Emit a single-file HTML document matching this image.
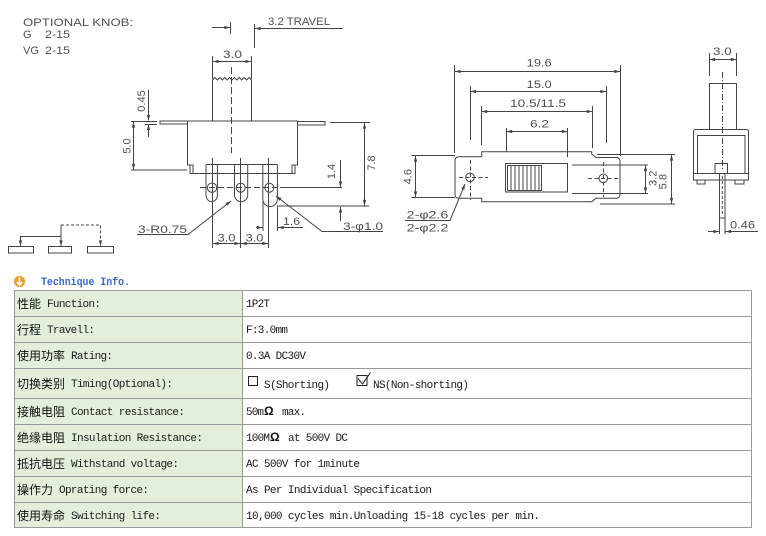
<!DOCTYPE html>
<html><head><meta charset="utf-8"><style>
html,body{margin:0;padding:0;background:#fff;width:766px;height:536px;overflow:hidden}
svg{position:absolute;left:0;top:0}
.d{font-family:"Liberation Sans",sans-serif;font-size:11px;fill:#505050}
.e{font-family:"Liberation Mono",monospace;font-size:11px;fill:#1a1a1a}
.c{font-family:"Liberation Sans","Noto Sans CJK SC",sans-serif;font-size:12px;fill:#111}
</style></head><body>
<svg width="766" height="536" viewBox="0 0 766 536" xmlns="http://www.w3.org/2000/svg">
<defs>
<marker id="a" viewBox="0 0 10 6" refX="10" refY="3" markerWidth="6" markerHeight="3.4" markerUnits="userSpaceOnUse" orient="auto-start-reverse"><path d="M0,0 L10,3 L0,6 z" fill="#444"/></marker>
</defs>
<g stroke="#444" stroke-width="1" fill="none">
<!-- LEFT DRAWING -->
<line x1="343" y1="28.5" x2="255" y2="28.5" marker-end="url(#a)"/>
<line x1="254.5" y1="24" x2="254.5" y2="48"/>
<line x1="212" y1="27.5" x2="230" y2="27.5" marker-end="url(#a)"/>
<line x1="230.5" y1="22" x2="230.5" y2="34"/>
<line x1="212.5" y1="56" x2="212.5" y2="79"/>
<line x1="251.5" y1="56" x2="251.5" y2="79"/>
<line x1="213" y1="61.5" x2="251" y2="61.5" marker-start="url(#a)" marker-end="url(#a)"/>
<path d="M212.5,121 V80 L214.9,77.5 L217.4,80 L219.8,77.5 L222.3,80 L224.7,77.5 L227.1,80 L229.6,77.5 L232,80 L234.4,77.5 L236.9,80 L239.3,77.5 L241.8,80 L244.2,77.5 L246.6,80 L249.1,77.5 L251.5,80 V121"/>
<line x1="231.5" y1="67" x2="231.5" y2="153" stroke-dasharray="7 3"/>
<path d="M188,121 H160 V124 H188"/>
<path d="M297.5,121.5 H325 V125 H297.5"/>
<path d="M187.5,121 H297.5 V165 H295 V173.5 H190 V165 H187.5 Z"/>
<path d="M190,165 H193 V173.5 M295,165 H292 V173.5"/>
<path d="M206,164.5 H277.5"/>
<path d="M206,164.5 V195 A5.7,6.7 0 0 0 217.4,195 V164.5"/>
<path d="M234.5,164.5 V195 A6.6,6.7 0 0 0 247.7,195 V164.5"/>
<path d="M262.8,164.5 V199 A7.3,7.5 0 0 0 277.4,199 V164.5"/>
<line x1="212.5" y1="158" x2="212.5" y2="248"/>
<line x1="240.5" y1="158" x2="240.5" y2="248"/>
<line x1="268.5" y1="158" x2="268.5" y2="248"/>
<circle cx="212" cy="187.7" r="4.7"/>
<circle cx="240.7" cy="187.7" r="4.5"/>
<circle cx="269.3" cy="187.7" r="4.5"/>
<line x1="200" y1="187.5" x2="280" y2="187.5" stroke-dasharray="6 3"/>
<line x1="280" y1="187.5" x2="342" y2="187.5"/>
<line x1="340.5" y1="160" x2="340.5" y2="187" marker-end="url(#a)"/>
<line x1="340.5" y1="221" x2="340.5" y2="207" marker-end="url(#a)"/>
<line x1="364.5" y1="123" x2="364.5" y2="205.5" marker-start="url(#a)" marker-end="url(#a)"/>
<line x1="330" y1="122.5" x2="370" y2="122.5"/>
<line x1="277" y1="206" x2="369" y2="206"/>
<line x1="133.5" y1="122" x2="133.5" y2="169.5" marker-start="url(#a)" marker-end="url(#a)"/>
<line x1="131" y1="121.5" x2="157" y2="121.5"/>
<line x1="131" y1="170" x2="187" y2="170"/>
<line x1="148.5" y1="90" x2="148.5" y2="120.5" marker-end="url(#a)"/>
<line x1="148.5" y1="137" x2="148.5" y2="124.5" marker-end="url(#a)"/>
<line x1="145" y1="124.5" x2="157" y2="124.5"/>
<line x1="213" y1="243.5" x2="240" y2="243.5" marker-start="url(#a)" marker-end="url(#a)"/>
<line x1="241" y1="243.5" x2="268" y2="243.5" marker-start="url(#a)" marker-end="url(#a)"/>
<line x1="256" y1="227.5" x2="262.5" y2="227.5" marker-end="url(#a)"/>
<line x1="303" y1="227.5" x2="278" y2="227.5" marker-end="url(#a)"/>
<line x1="263" y1="200" x2="263" y2="231"/>
<line x1="277.5" y1="206" x2="277.5" y2="231"/>
<path d="M137,234.5 H188 L231,201" marker-end="url(#a)"/>
<path d="M383,231.5 H322 L276,196" marker-end="url(#a)"/>
<rect x="8.5" y="246.5" width="25" height="6.5"/>
<rect x="48.5" y="246.5" width="23" height="6.5"/>
<rect x="87.5" y="246.5" width="26" height="6.5"/>
<path d="M61,236.5 H20.5 V246" marker-end="url(#a)"/>
<path d="M61,225 V246" marker-end="url(#a)"/>
<path d="M61,225 H100.5 V246" stroke-dasharray="3 2" marker-end="url(#a)"/>
<!-- MIDDLE DRAWING -->
<path d="M481.7,156.7 V151.7 H591.7 V154 L596,157.5 H616 Q620,157.5 620,161.5 V194.3 Q620,198.3 616,198.3 H596 L591.7,201.7 H481.7 V198.3 H459 Q455,198.3 455,194.3 V160.7 Q455,156.7 459,156.7 Z"/>
<rect x="505.5" y="163.5" width="62" height="28.5"/>
<rect x="507.5" y="165.5" width="34" height="25"/>
<path d="M511,166 V190 M515,166 V190 M519,166 V190 M523,166 V190 M527,166 V190 M531,166 V190 M535,166 V190 M539,166 V190"/>
<circle cx="470" cy="177.3" r="4.3"/>
<circle cx="603.3" cy="178.3" r="4.3"/>
<path d="M459,177.5 H488 M470.5,160 V200 M588,178.5 H618 M603.5,162 V197" stroke-dasharray="4 2.5"/>
<line x1="455" y1="71.5" x2="620" y2="71.5" marker-start="url(#a)" marker-end="url(#a)"/>
<line x1="454.5" y1="65" x2="454.5" y2="153"/>
<line x1="620.5" y1="65" x2="620.5" y2="156"/>
<line x1="470.5" y1="91.5" x2="606" y2="91.5" marker-start="url(#a)" marker-end="url(#a)"/>
<line x1="470.5" y1="86" x2="470.5" y2="140"/>
<line x1="606.5" y1="86" x2="606.5" y2="143"/>
<line x1="481.5" y1="111.5" x2="592.5" y2="111.5" marker-start="url(#a)" marker-end="url(#a)"/>
<line x1="481.5" y1="106" x2="481.5" y2="145"/>
<line x1="592.5" y1="106" x2="592.5" y2="148"/>
<line x1="506.5" y1="131.5" x2="567.5" y2="131.5" marker-start="url(#a)" marker-end="url(#a)"/>
<line x1="506.5" y1="128" x2="506.5" y2="152"/>
<line x1="567.5" y1="128" x2="567.5" y2="157"/>
<line x1="415.5" y1="156" x2="415.5" y2="197" marker-start="url(#a)" marker-end="url(#a)"/>
<line x1="411.5" y1="155.5" x2="455" y2="155.5"/>
<line x1="411.5" y1="197.5" x2="455" y2="197.5"/>
<line x1="645.5" y1="165.5" x2="645.5" y2="193" marker-start="url(#a)" marker-end="url(#a)"/>
<line x1="572" y1="165" x2="648" y2="165"/>
<line x1="572" y1="193.5" x2="648" y2="193.5"/>
<line x1="671.5" y1="155" x2="671.5" y2="203.5" marker-start="url(#a)" marker-end="url(#a)"/>
<line x1="597" y1="154.5" x2="675" y2="154.5"/>
<line x1="600" y1="204" x2="675" y2="204"/>
<path d="M405,220.5 H450 L465,184" marker-end="url(#a)"/>
<!-- RIGHT DRAWING -->
<line x1="709.5" y1="59.5" x2="736.5" y2="59.5" marker-start="url(#a)" marker-end="url(#a)"/>
<line x1="709.5" y1="53" x2="709.5" y2="76"/>
<line x1="736.5" y1="53" x2="736.5" y2="76"/>
<rect x="709.5" y="83.5" width="27" height="46"/>
<path d="M693.5,173.5 V132 Q693.5,129.5 696,129.5 H746 Q748.5,129.5 748.5,132 V173.5 Z"/>
<path d="M697.5,173.5 V135.5 H745 V173.5"/>
<path d="M693.5,173.5 V180 H748.5 V173.5"/>
<path d="M697,180 V184 H705 V180 M735,180 V184 H744 V180"/>
<rect x="715" y="163.5" width="12.5" height="10"/>
<line x1="722.5" y1="72" x2="722.5" y2="170" stroke-dasharray="6 2 1 2"/>
<rect x="719.5" y="173.5" width="5.5" height="44.5"/>
<line x1="722.3" y1="176" x2="722.3" y2="216" stroke-dasharray="3 2"/>
<line x1="719.5" y1="218" x2="719.5" y2="234"/>
<line x1="725" y1="218" x2="725" y2="234"/>
<line x1="708" y1="231.5" x2="719" y2="231.5" marker-end="url(#a)"/>
<line x1="758" y1="231.5" x2="725.5" y2="231.5" marker-end="url(#a)"/>
</g>
<g fill="#444">
<circle cx="722.3" cy="172" r="0"/>
</g>
<!-- drawing texts -->
<text class="d" x="23" y="26" textLength="110" lengthAdjust="spacingAndGlyphs">OPTIONAL KNOB:</text>
<text class="d" x="23" y="38">G</text>
<text class="d" x="45" y="38" textLength="25" lengthAdjust="spacingAndGlyphs">2-15</text>
<text class="d" x="23" y="54" textLength="16" lengthAdjust="spacingAndGlyphs">VG</text>
<text class="d" x="45" y="54" textLength="25" lengthAdjust="spacingAndGlyphs">2-15</text>
<text class="d" x="268" y="25" textLength="62" lengthAdjust="spacingAndGlyphs">3.2 TRAVEL</text>
<text class="d" x="223" y="58" textLength="19" lengthAdjust="spacingAndGlyphs">3.0</text>
<text class="d" x="217.5" y="241.5" textLength="18" lengthAdjust="spacingAndGlyphs">3.0</text>
<text class="d" x="245.5" y="241.5" textLength="18" lengthAdjust="spacingAndGlyphs">3.0</text>
<text class="d" x="283" y="225" textLength="17" lengthAdjust="spacingAndGlyphs">1.6</text>
<text class="d" x="138" y="233" textLength="49" lengthAdjust="spacingAndGlyphs">3-R0.75</text>
<text class="d" x="343" y="230" textLength="40" lengthAdjust="spacingAndGlyphs">3-φ1.0</text>
<text class="d" x="142" y="101" text-anchor="middle" dominant-baseline="central" transform="rotate(-90 142 101)">0.45</text>
<text class="d" x="127.5" y="146" text-anchor="middle" dominant-baseline="central" transform="rotate(-90 127.5 146)">5.0</text>
<text class="d" x="332" y="171.5" text-anchor="middle" dominant-baseline="central" transform="rotate(-90 332 171.5)">1.4</text>
<text class="d" x="372" y="163" text-anchor="middle" dominant-baseline="central" transform="rotate(-90 372 163)">7.8</text>
<text class="d" x="526.7" y="66.5" textLength="25" lengthAdjust="spacingAndGlyphs">19.6</text>
<text class="d" x="526.7" y="88" textLength="25" lengthAdjust="spacingAndGlyphs">15.0</text>
<text class="d" x="510" y="107" textLength="56" lengthAdjust="spacingAndGlyphs">10.5/11.5</text>
<text class="d" x="530" y="127.5" textLength="19" lengthAdjust="spacingAndGlyphs">6.2</text>
<text class="d" x="408.3" y="176.7" text-anchor="middle" dominant-baseline="central" transform="rotate(-90 408.3 176.7)">4.6</text>
<text class="d" x="653.3" y="178.3" text-anchor="middle" dominant-baseline="central" transform="rotate(-90 653.3 178.3)">3.2</text>
<text class="d" x="663.3" y="181.7" text-anchor="middle" dominant-baseline="central" transform="rotate(-90 663.3 181.7)">5.8</text>
<text class="d" x="406.7" y="218.3" textLength="41.6" lengthAdjust="spacingAndGlyphs">2-φ2.6</text>
<text class="d" x="406.7" y="231.7" textLength="41.6" lengthAdjust="spacingAndGlyphs">2-φ2.2</text>
<text class="d" x="713" y="55" textLength="18.7" lengthAdjust="spacingAndGlyphs">3.0</text>
<text class="d" x="730" y="228.3" textLength="25" lengthAdjust="spacingAndGlyphs">0.46</text>

<!-- header -->
<circle cx="19.5" cy="281.5" r="5.6" fill="#f0a028"/>
<path d="M19.5,277.5 V284.5 M16.8,282 L19.5,285 L22.2,282" stroke="#fff" stroke-width="1.6" fill="none"/>
<text x="41" y="285" textLength="89" lengthAdjust="spacingAndGlyphs" style="font-family:'Liberation Mono',monospace;font-size:11px;font-weight:bold;fill:#3a66c4">Technique Info.</text>

<!-- table -->
<rect x="14.5" y="290.5" width="228" height="237" fill="#e3efdb"/>
<g stroke="#999" stroke-width="1" fill="none">
<rect x="14.5" y="290.5" width="737" height="237"/>
<line x1="242.5" y1="290.5" x2="242.5" y2="527.5"/>
<line x1="14.5" y1="316.5" x2="751.5" y2="316.5"/>
<line x1="14.5" y1="342.5" x2="751.5" y2="342.5"/>
<line x1="14.5" y1="368.5" x2="751.5" y2="368.5"/>
<line x1="14.5" y1="398.5" x2="751.5" y2="398.5"/>
<line x1="14.5" y1="424.5" x2="751.5" y2="424.5"/>
<line x1="14.5" y1="450.5" x2="751.5" y2="450.5"/>
<line x1="14.5" y1="476.5" x2="751.5" y2="476.5"/>
<line x1="14.5" y1="502.5" x2="751.5" y2="502.5"/>
</g>
<text class="c" x="17" y="308">性能</text><text class="e" x="47" y="307" textLength="54">Function:</text>
<text class="c" x="17" y="334">行程</text><text class="e" x="47" y="333" textLength="48">Travell:</text>
<text class="c" x="17" y="360">使用功率</text><text class="e" x="71" y="359" textLength="42">Rating:</text>
<text class="c" x="17" y="388">切换类别</text><text class="e" x="71" y="387" textLength="102">Timing(Optional):</text>
<text class="c" x="17" y="416">接触电阻</text><text class="e" x="71" y="415" textLength="114">Contact resistance:</text>
<text class="c" x="17" y="442">绝缘电阻</text><text class="e" x="71" y="441" textLength="132">Insulation Resistance:</text>
<text class="c" x="17" y="468">抵抗电压</text><text class="e" x="71" y="467" textLength="108">Withstand voltage:</text>
<text class="c" x="17" y="494">操作力</text><text class="e" x="59" y="493" textLength="90">Oprating force:</text>
<text class="c" x="17" y="520">使用寿命</text><text class="e" x="71" y="519" textLength="90">Switching life:</text>

<text class="e" x="246" y="307" textLength="24">1P2T</text>
<text class="e" x="246" y="333" textLength="42">F:3.0mm</text>
<text class="e" x="246" y="359" textLength="60">0.3A DC30V</text>
<rect x="248.5" y="376.5" width="9" height="9" fill="none" stroke="#222"/>
<text class="e" x="264" y="388" textLength="66">S(Shorting)</text>
<rect x="357" y="375.5" width="10" height="10" fill="none" stroke="#222"/>
<path d="M358,378.5 L362.5,384 L370.5,372.5" fill="none" stroke="#222" stroke-width="1"/>
<text class="e" x="373" y="388" textLength="96">NS(Non-shorting)</text>
<text class="e" x="246" y="415" textLength="18">50m</text>
<text x="264" y="415" style="font-family:'Liberation Sans',sans-serif;font-size:12px;font-weight:bold;fill:#111">Ω</text>
<text class="e" x="282" y="415" textLength="24">max.</text>
<text class="e" x="246" y="441" textLength="24">100M</text>
<text x="270" y="441" style="font-family:'Liberation Sans',sans-serif;font-size:12px;font-weight:bold;fill:#111">Ω</text>
<text class="e" x="288" y="441" textLength="60">at 500V DC</text>
<text class="e" x="246" y="467" textLength="114">AC 500V for 1minute</text>
<text class="e" x="246" y="493" textLength="186">As Per Individual Specification</text>
<text class="e" x="246" y="519" textLength="294">10,000 cycles min.Unloading 15-18 cycles per min.</text>
</svg>
</body></html>
